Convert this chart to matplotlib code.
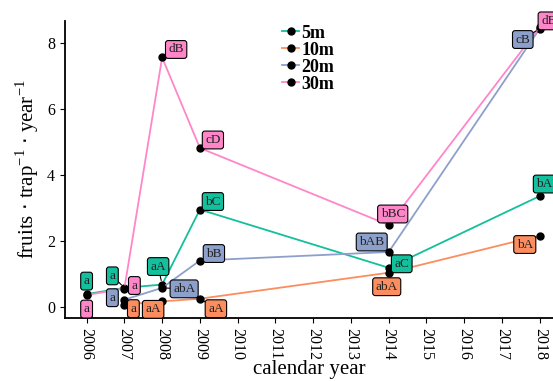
import numpy as np
import matplotlib.pyplot as plt

plt.rcParams['font.family'] = ['Liberation Serif', 'DejaVu Serif']

years = [2006, 2007, 2008, 2009, 2014, 2018]
groups = ['5m', '10m', '20m', '30m']
colors = ['#13BF9C', '#FC8D5E', '#8DA0CB', '#FF86C8']

# mean fruit counts per trap and year; None = not sampled
fruits = {
    '5m':  [0.38, 0.57, 0.67, 2.95, 1.18, 3.36],
    '10m': [None, 0.06, 0.16, 0.24, 1.03, 2.16],
    '20m': [None, 0.21, 0.57, 1.40, 1.66, 8.45],
    '30m': [0.35, 0.55, 7.57, 4.82, 2.48, 8.50],
}
letters = {
    '5m':  ['a', 'a', 'aA', 'bC', 'aC', 'bAB'],
    '10m': [None, 'a', 'aA', 'aA', 'abA', 'bA'],
    '20m': [None, 'a', 'abA', 'bB', 'bAB', 'cB'],
    '30m': ['a', 'a', 'dB', 'cD', 'bBC', 'dB'],
}
# label offsets in pixels (dx, dy)
offsets = {
    '5m':  [(0, 13), (-12, 12), (-4, 18), (13, 8), (13, 4), (9, 12)],
    '10m': [None, (9, -4), (-9, -8), (16, -10), (-2, -14), (-15, -9)],
    '20m': [None, (-12, 2), (22, -1), (14, 7), (-17, 10), (-17, -11)],
    '30m': [(0, -14), (10, 3), (14, 8), (13, 8), (4, 11), (9, 6)],
}

fig = plt.figure(figsize=(5.53, 3.81), dpi=100)
ax = fig.add_axes([0.117, 0.165, 0.883, 0.78])

for g, c in zip(groups, colors):
    xs = [x for x, v in zip(years, fruits[g]) if v is not None]
    ys = [v for v in fruits[g] if v is not None]
    ax.plot(xs, ys, color=c, lw=1.3, zorder=2, label=g,
            marker='o', markersize=5, markerfacecolor='black', markeredgecolor='black')

for g, c in zip(groups, colors):
    for x, v, t, off in zip(years, fruits[g], letters[g], offsets[g]):
        if v is None:
            continue
        dist = np.hypot(off[0], off[1])
        arrow = dict(arrowstyle='-', color='black', lw=0.8, shrinkA=0, shrinkB=3) if dist > 16 else None
        ax.annotate(t, (x, v), xytext=off, textcoords='offset pixels',
                    ha='center', va='center', fontsize=9.5, color='#222222',
                    bbox=dict(boxstyle='round,pad=0.22,rounding_size=0.2', fc=c, ec='black', lw=0.8),
                    arrowprops=arrow, zorder=5, annotation_clip=False)

ax.set_xlim(2005.42, 2018.35)
ax.set_ylim(-0.35, 8.68)
ax.set_xticks(range(2006, 2019))
ax.set_xticklabels([str(y) for y in range(2006, 2019)], rotation=-90, fontsize=11.5)
ax.set_yticks([0, 2, 4, 6, 8])
ax.tick_params(axis='y', labelsize=11.5)
ax.spines['top'].set_visible(False)
ax.spines['right'].set_visible(False)
ax.spines['left'].set_linewidth(1.3)
ax.spines['bottom'].set_linewidth(1.3)

ax.set_xlabel('calendar year', fontsize=15, labelpad=0)
ax.set_ylabel('fruits $\\cdot$ trap$^{\\mathregular{\u22121}}$ $\\cdot$ year$^{\\mathregular{\u22121}}$', fontsize=15)

leg = ax.legend(loc='upper left', bbox_to_anchor=(0.42, 1.03), frameon=False,
                prop={'weight': 'bold', 'size': 13}, handlelength=0.9, handletextpad=0.15,
                labelspacing=0.0, borderpad=0.2)

fig.savefig('out.png', dpi=100)
